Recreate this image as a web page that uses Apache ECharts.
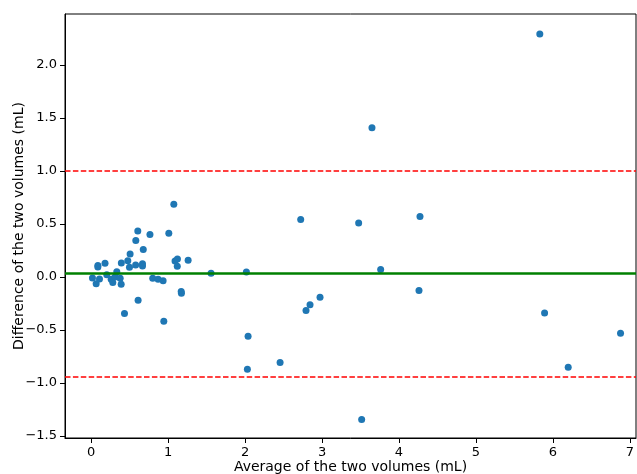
<!DOCTYPE html>
<html>
<head>
<meta charset="utf-8">
<script src="https://cdn.jsdelivr.net/npm/echarts@6/dist/echarts.min.js"></script>
<style>
html,body{margin:0;padding:0;background:#fff;}
#chart{width:637px;height:474px;}
</style>
</head>
<body>
<div id="chart"></div>
<script>
// Average of the two volumes (mL)
const avgValues = [0.017,0.065,0.087,0.087,0.108,0.18,0.203,0.26,0.281,0.31,0.333,0.377,0.39,0.392,0.433,0.476,0.498,0.506,0.578,0.58,0.606,0.61,0.667,0.667,0.677,0.764,0.80,0.87,0.935,0.944,1.009,1.074,1.09,1.121,1.119,1.17,1.173,1.26,1.558,2.017,2.039,2.03,2.455,2.723,2.792,2.844,2.974,3.476,3.515,3.649,3.762,4.26,4.273,5.83,5.892,6.199,6.879];
// Difference of the two volumes (mL)
const diffValues = [-0.01,-0.065,0.107,0.093,-0.02,0.129,0.02,-0.022,-0.052,0.0,0.048,-0.013,-0.069,0.13,-0.346,0.153,0.092,0.217,0.113,0.343,0.434,-0.22,0.125,0.102,0.258,0.40,-0.013,-0.022,-0.037,-0.418,0.412,0.686,0.15,0.168,0.10,-0.139,-0.154,0.157,0.035,0.047,-0.56,-0.871,-0.808,0.541,-0.318,-0.264,-0.192,0.509,-1.346,1.406,0.069,-0.129,0.569,2.292,-0.34,-0.852,-0.531];
const meanDiff = 0.033;
const upperLoA = 0.997;
const lowerLoA = -0.935;
const xTicks = [0,1,2,3,4,5,6,7];
const yTicks = [-1.5,-1.0,-0.5,0.0,0.5,1.0,1.5,2.0];

const points = avgValues.map((x,i)=>[x,diffValues[i]]);
const fmt = v => (v<0 ? '\u2212' : '') + Math.abs(v).toFixed(1);
const font = 'DejaVu Sans';

const chart = echarts.init(document.getElementById('chart'), null, {renderer:'canvas'});
chart.setOption({
  animation:false,
  backgroundColor:'#ffffff',
  textStyle:{fontFamily:font},
  grid:{left:65,top:14,right:1,bottom:36,containLabel:false,outerBoundsMode:'none',show:true,borderColor:'#000',borderWidth:1,backgroundColor:'transparent'},
  xAxis:{
    type:'value', min:-0.34, max:7.08,
    name:'Average of the two volumes (mL)', nameLocation:'middle', nameGap:22, nameMoveOverlap:false,
    nameTextStyle:{fontFamily:font,fontSize:14,color:'#000'},
    axisLine:{show:true,onZero:false,lineStyle:{color:'#000',width:1}},
    axisTick:{show:true,length:5,lineStyle:{color:'#000',width:1},customValues:xTicks},
    axisLabel:{fontFamily:font,fontSize:13,color:'#000',margin:8,customValues:xTicks,formatter:v=>String(v)},
    splitLine:{show:false}
  },
  yAxis:{
    type:'value', min:-1.52, max:2.48,
    name:'Difference of the two volumes (mL)', nameLocation:'middle', nameGap:39, nameMoveOverlap:false,
    nameTextStyle:{fontFamily:font,fontSize:14,color:'#000'},
    axisLine:{show:true,onZero:false,lineStyle:{color:'#000',width:1}},
    axisTick:{show:true,length:5,lineStyle:{color:'#000',width:1},customValues:yTicks},
    axisLabel:{fontFamily:font,fontSize:13,color:'#000',margin:8,customValues:yTicks,formatter:fmt},
    splitLine:{show:false}
  },
  series:[{
    type:'scatter',
    data:points,
    symbol:'circle',
    symbolSize:7,
    itemStyle:{color:'#1f77b4',opacity:1},
    z:2,
    markLine:{
      silent:true,
      symbol:['none','none'],
      label:{show:false},
      z:3,
      data:[
        {yAxis:meanDiff,lineStyle:{color:'#008000',width:2.5,type:'solid'}},
        {yAxis:upperLoA,lineStyle:{color:'#ff0000',width:1.5,type:[5.5,2.4]}},
        {yAxis:lowerLoA,lineStyle:{color:'#ff0000',width:1.5,type:[5.5,2.4]}}
      ]
    }
  }]
});
</script>
</body>
</html>
